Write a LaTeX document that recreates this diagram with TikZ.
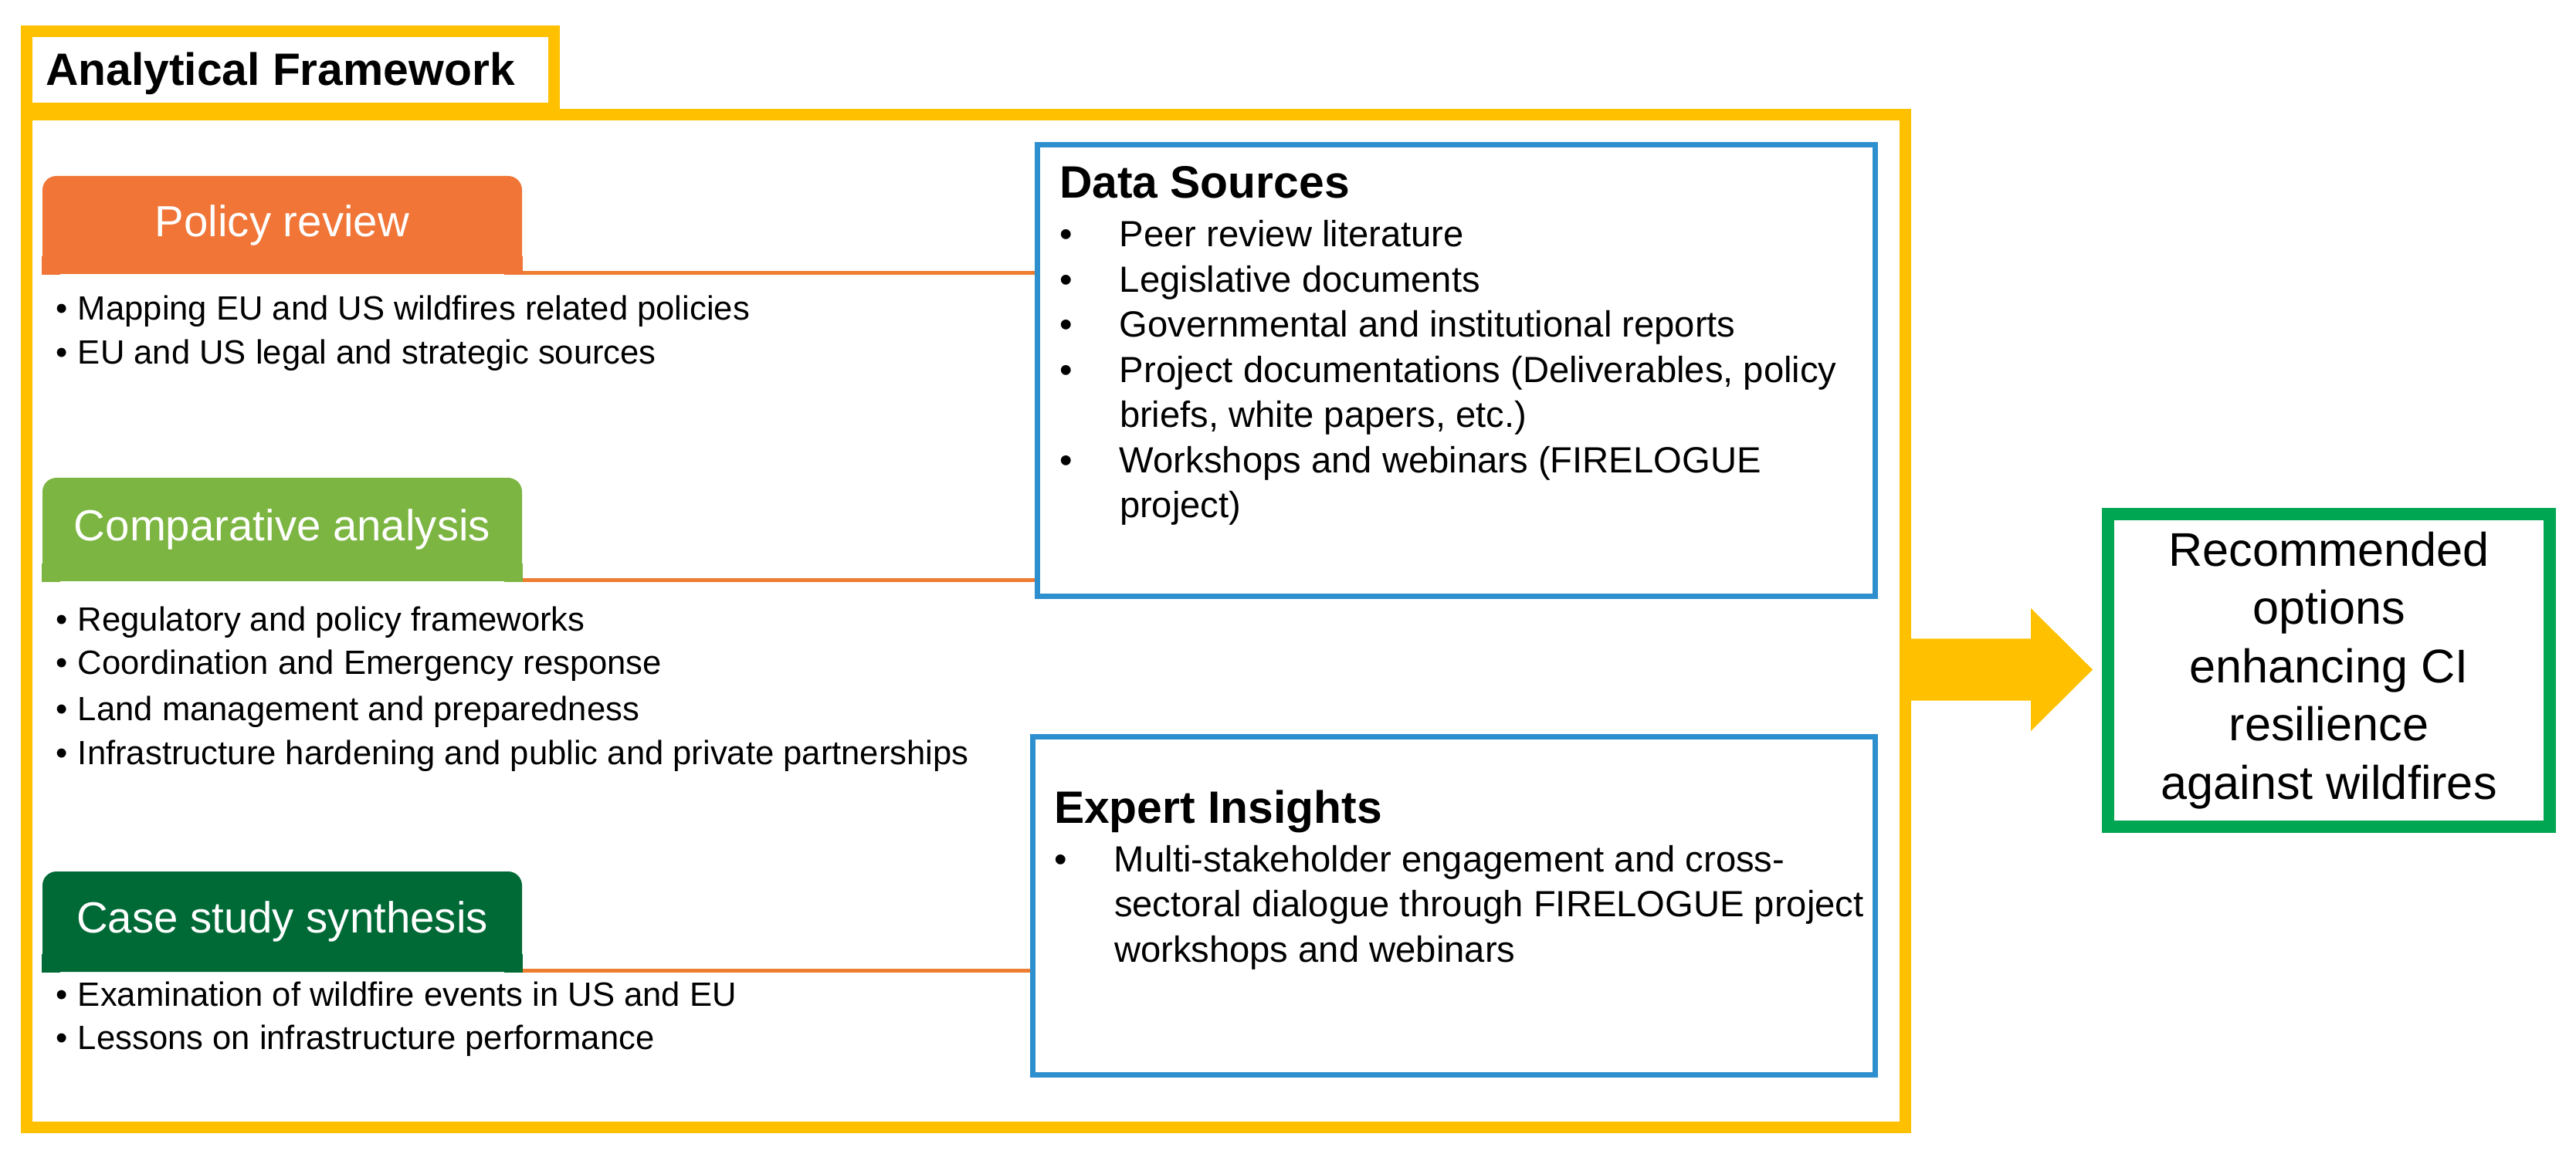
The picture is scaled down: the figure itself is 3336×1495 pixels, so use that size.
\documentclass[tikz,border=0pt]{standalone}
\usepackage{fontspec}
\setmainfont{Liberation Sans}
\usetikzlibrary{calc}
\definecolor{afgold}{HTML}{FFC000}
\definecolor{aforange}{HTML}{F07537}
\definecolor{aflime}{HTML}{7CB542}
\definecolor{afdark}{HTML}{006A37}
\definecolor{afblue}{HTML}{2E8FCE}
\definecolor{afgreen}{HTML}{00A651}
\definecolor{afconn}{HTML}{ED7D31}
\newcommand\afTitle{\bfseries\fontsize{14.7pt}{17pt}\selectfont}
\newcommand\afLabel{\fontsize{14.1pt}{17pt}\selectfont}
\newcommand\afLeft{\fontsize{10.9pt}{14pt}\selectfont}
\newcommand\afRight{\fontsize{11.8pt}{14pt}\selectfont}
\newcommand\afGreen{\fontsize{15.3pt}{18.9pt}\selectfont}
\newcommand\lb{\makebox[7.25pt][l]{\textbullet}}
\newcommand\rb{\makebox[19.5pt][l]{\textbullet}}
\begin{document}
\begin{tikzpicture}[x=0.25pt,y=-0.25pt,
  framebox/.style={draw=afgold, line width=3.75pt, inner sep=0pt},
  tabbox/.style={draw=afgold, fill=white, line width=3.75pt, inner sep=0pt},
  labelbox/.style={rounded corners=4.5pt, text=white, font=\afLabel, inner sep=0pt, minimum width=155.25pt},
  srcbox/.style={draw=afblue, line width=1.75pt, inner sep=0pt},
  conn/.style={draw=afconn, line width=1.2pt},
  txt/.style={anchor=base west, inner sep=0pt, outer sep=0pt},
  lefttxt/.style={txt, font=\afLeft},
  righttxt/.style={txt, font=\afRight},
  head/.style={txt, font=\afTitle}]
\useasboundingbox (0,0) rectangle (3336,1495);

% outer frame and tab
\node[framebox, minimum width=608.25pt, minimum height=328pt] (frame) at (1251,804.5) {};
\node[tabbox, minimum width=170.75pt, minimum height=25.125pt] (tab) at (376,90.75) {};
\node[head] (tabtitle) at (59,111) {Analytical Framework};

% blue source boxes
\node[srcbox, minimum width=271.25pt, minimum height=146.25pt] (ds) at (1886,480) {};
\node[srcbox, minimum width=272.875pt, minimum height=109.5pt] (ei) at (1882.75,1173) {};

% label boxes
\node[labelbox, fill=aforange, minimum height=31.75pt] (pol) at (365.5,291.5) {Policy review};
\fill[aforange] (pol.south west) rectangle ++(24,-24);
\fill[aforange] (pol.south east) rectangle ++(-24,-24);
\node[labelbox, fill=aflime, minimum height=33.5pt] (comp) at (365.5,686) {Comparative analysis};
\fill[aflime] (comp.south west) rectangle ++(24,-24);
\fill[aflime] (comp.south east) rectangle ++(-24,-24);
\node[labelbox, fill=afdark, minimum height=32.5pt] (case) at (365.5,1194) {Case study synthesis};
\fill[afdark] (case.south west) rectangle ++(24,-24);
\fill[afdark] (case.south east) rectangle ++(-24,-24);

% connectors
\draw[conn] ($(pol.south east)+(0,-2.5)$) coordinate (c1) -- (c1 -| ds.west);
\draw[conn] ($(comp.south east)+(0,-2.5)$) coordinate (c2) -- (c2 -| ds.west);
\draw[conn] ($(case.south east)+(0,-2.5)$) coordinate (c3) -- (c3 -| ei.west);

% left bullet lists
\node[lefttxt] (p1) at (72,415) {\lb Mapping EU and US wildfires related policies};
\node[lefttxt] (p2) at (72,472) {\lb EU and US legal and strategic sources};
\node[lefttxt] (a1) at (72,817) {\lb Regulatory and policy frameworks};
\node[lefttxt] (a2) at (72,874) {\lb Coordination and Emergency response};
\node[lefttxt] (a3) at (72,933) {\lb Land management and preparedness};
\node[lefttxt] (a4) at (72,990) {\lb Infrastructure hardening and public and private partnerships};
\node[lefttxt] (s1) at (72,1303) {\lb Examination of wildfire events in US and EU};
\node[lefttxt] (s2) at (72,1359) {\lb Lessons on infrastructure performance};

% data sources
\node[head] (dstitle) at (1372,257) {Data Sources};
\node[righttxt] (d1) at (1372,320) {\rb Peer review literature};
\node[righttxt] (d2) at (1372,379) {\rb Legislative documents};
\node[righttxt] (d3) at (1372,437) {\rb Governmental and institutional reports};
\node[righttxt] (d4) at (1372,496) {\rb Project documentations (Deliverables, policy};
\node[righttxt] (d4b) at (1450,554) {briefs, white papers, etc.)};
\node[righttxt] (d5) at (1372,613) {\rb Workshops and webinars (FIRELOGUE};
\node[righttxt] (d5b) at (1450,671) {project)};

% expert insights
\node[head] (eititle) at (1365,1066) {Expert Insights};
\node[righttxt] (e1) at (1365,1129) {\rb Multi-stakeholder engagement and cross-};
\node[righttxt] (e1b) at (1443,1187) {sectoral dialogue through FIRELOGUE project};
\node[righttxt] (e1c) at (1443,1246) {workshops and webinars};

% result box
\node[draw=afgreen, line width=4pt, minimum width=143pt, minimum height=101.25pt,
      inner sep=0pt, align=center, font=\afGreen] (rec) at (3016,868.5)
  {Recommended\\options\\enhancing CI\\resilience\\against wildfires};

% big arrow
\coordinate (at) at ($(frame.east |- rec.west)+(-6,-1)$);
\fill[afgold] ($(at)+(0,-40)$) -- ++(161,0) -- ++(0,-39.5) -- ($(at)+(241,0)$)
  -- ($(at)+(161,79.5)$) -- ++(0,-39.5) -- ($(at)+(0,40)$) -- cycle;
\end{tikzpicture}
\end{document}
